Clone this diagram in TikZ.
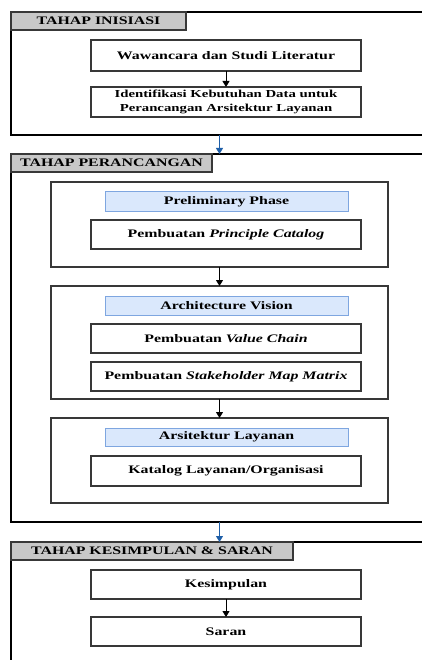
\documentclass[tikz,border=0pt]{standalone}
\usepackage{fontspec}
\setmainfont{Liberation Serif}[FakeStretch=1.38]
\usetikzlibrary{arrows.meta}
\definecolor{tabgray}{HTML}{C8C8C8}
\definecolor{hdrfill}{HTML}{DAE8FC}
\definecolor{hdrdraw}{HTML}{7EA6E0}
\definecolor{flowblue}{HTML}{1F5FA8}
\definecolor{boxline}{HTML}{383838}
\begin{document}
\begin{tikzpicture}[x=1pt,y=-1pt,
  every node/.style={inner sep=0pt,outer sep=0pt,anchor=north west,
    font=\fontsize{11.5}{14}\selectfont\bfseries},
  outerbox/.style={draw=black,line width=1.1pt},
  tabbox/.style={draw=boxline,fill=tabgray,line width=1.1pt},
  phasebox/.style={draw=boxline,line width=1.5pt},
  hdrbox/.style={draw=hdrdraw,fill=hdrfill,line width=1pt},
  stepbox/.style={draw=boxline,line width=1.5pt,align=center},
  flow/.style={-{Triangle[width=7pt,length=6pt]},line width=1pt},
  bflow/.style={flow,draw=flowblue,fill=flowblue}
]
\useasboundingbox (0,0) rectangle (422,660);
\clip (0,0) rectangle (422,660);

% Stage 1
\node[outerbox,minimum width=440pt,minimum height=123pt] (ob1) at (11,12) {};
\node[tabbox,minimum width=175pt,minimum height=18pt] (t1) at (11,12) {TAHAP INISIASI};
\node[stepbox,minimum width=270pt,minimum height=31pt] (b1) at (91,40) {Wawancara dan Studi Literatur};
\node[stepbox,minimum width=270pt,minimum height=30pt] (b2) at (91,87)
  {\fontsize{10.7}{12.5}\selectfont Identifikasi Kebutuhan Data untuk\\\fontsize{10.7}{12.5}\selectfont Perancangan Arsitektur Layanan};

% Stage 2
\node[outerbox,minimum width=440pt,minimum height=368pt] (ob2) at (11,154) {};
\node[tabbox,minimum width=201pt,minimum height=18pt] (t2) at (11,154) {TAHAP PERANCANGAN};

\node[phasebox,minimum width=337pt,minimum height=85pt] (pa) at (51,182) {};
\node[hdrbox,minimum width=243pt,minimum height=19pt] (ha) at (105,192) {Preliminary Phase};
\node[stepbox,minimum width=270pt,minimum height=29pt] (sa) at (91,220) {Pembuatan \textit{Principle Catalog}};

\node[phasebox,minimum width=337pt,minimum height=113pt] (pb) at (51,286) {};
\node[hdrbox,minimum width=243pt,minimum height=19pt] (hb) at (105,296) {Architecture Vision};
\node[stepbox,minimum width=270pt,minimum height=29pt] (sb1) at (91,324) {Pembuatan \textit{Value Chain}};
\node[stepbox,minimum width=270pt,minimum height=29pt] (sb2) at (91,362) {Pembuatan \textit{Stakeholder Map Matrix}};

\node[phasebox,minimum width=337pt,minimum height=85pt] (pc) at (51,418) {};
\node[hdrbox,minimum width=243pt,minimum height=18pt] (hc) at (105,428) {Arsitektur Layanan};
\node[stepbox,minimum width=270pt,minimum height=30pt] (sc) at (91,456) {Katalog Layanan/Organisasi};

% Stage 3
\node[outerbox,minimum width=440pt,minimum height=140pt] (ob3) at (11,542) {};
\node[tabbox,minimum width=282pt,minimum height=18pt] (t3) at (11,542) {TAHAP KESIMPULAN \& SARAN};
\node[stepbox,minimum width=270pt,minimum height=29pt] (k1) at (91,570) {Kesimpulan};
\node[stepbox,minimum width=270pt,minimum height=29pt] (k2) at (91,617) {Saran};

% connectors
\draw[flow] (b1.south) -- (b2.north);
\draw[flow] (pa.south) -- (pb.north);
\draw[flow] (pb.south) -- (pc.north);
\draw[flow] (k1.south) -- (k2.north);
\draw[bflow] (ob1.south -| pa.south) -- (ob2.north -| pa.south);
\draw[bflow] (ob2.south -| pa.south) -- (ob3.north -| pa.south);
\end{tikzpicture}
\end{document}
